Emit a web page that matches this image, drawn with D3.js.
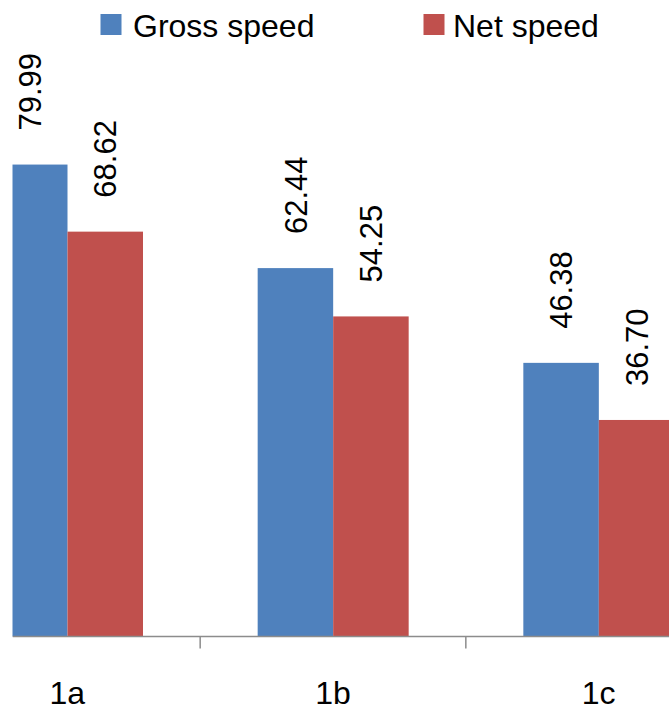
<!DOCTYPE html>
<html>
<head>
<meta charset="utf-8">
<script src="https://cdn.jsdelivr.net/npm/d3@7"></script>
<style>
  html, body { margin: 0; padding: 0; background: #fff; }
  svg { display: block; }
  text { font-family: "Liberation Sans", Arial, sans-serif; fill: #000; }
</style>
</head>
<body>
<svg id="chart" width="669" height="712"></svg>
<script>
const categories = ["1a", "1b", "1c"];
const seriesNames = ["Gross speed", "Net speed"];
const grossSpeed = [79.99, 62.44, 46.38];
const netSpeed = [68.62, 54.25, 36.70];
const valueLabels = [["79.99", "62.44", "46.38"], ["68.62", "54.25", "36.70"]];
const colors = ["#4F81BD", "#C0504D"];

const seriesValues = [grossSpeed, netSpeed];
const svg = d3.select("#chart");
const W = 669, H = 712;
const plotLeft = 12.5, plotRight = 669;
const baseY = 636.5;

const x0 = d3.scaleBand().domain(categories).range([-65.5, 731.5]).paddingInner(0).paddingOuter(0);
const x1 = d3.scaleBand().domain(seriesNames).range([57.5, 208.5]).padding(0);
const y = d3.scaleLinear().domain([0, 100]).range([baseY, 46.5]);

svg.append("defs").append("clipPath").attr("id", "plotclip")
  .append("rect").attr("x", plotLeft).attr("y", 0).attr("width", plotRight - plotLeft).attr("height", H);

const plot = svg.append("g").attr("clip-path", "url(#plotclip)");

const rows = [];
categories.forEach((c, i) => {
  seriesNames.forEach((s, j) => {
    rows.push({cat: c, series: s, si: j, value: seriesValues[j][i], label: valueLabels[j][i]});
  });
});

plot.selectAll("rect.bar").data(rows).join("rect")
  .attr("class", "bar")
  .attr("x", d => x0(d.cat) + x1(d.series))
  .attr("width", x1.bandwidth())
  .attr("y", d => y(d.value))
  .attr("height", d => baseY - y(d.value))
  .attr("fill", d => colors[d.si]);

// value labels (rotated)
svg.selectAll("text.val").data(rows).join("text")
  .attr("class", "val")
  .attr("font-size", 31)
  .attr("text-anchor", "start")
  .attr("dy", "0.36em")
  .attr("transform", d => {
    const cx = x0(d.cat) + x1(d.series) + x1.bandwidth() / 2;
    const cy = y(d.value) - 34;
    return `translate(${cx},${cy}) rotate(-90)`;
  })
  .text(d => d.label);

// category axis
const axisG = plot.append("g").attr("transform", `translate(0,${baseY})`);
axisG.append("line")
  .attr("x1", plotLeft).attr("x2", plotRight)
  .attr("y1", 0).attr("y2", 0)
  .attr("stroke", "#8c8c8c").attr("stroke-width", 1.5);
const boundaries = categories.map(c => x0(c)).concat([x0(categories[categories.length - 1]) + x0.step()]);
axisG.selectAll("line.tick").data(boundaries).join("line")
  .attr("class", "tick")
  .attr("x1", d => d).attr("x2", d => d)
  .attr("y1", 0).attr("y2", 12)
  .attr("stroke", "#8c8c8c").attr("stroke-width", 1.5);

svg.selectAll("text.cat").data(categories).join("text")
  .attr("class", "cat")
  .attr("font-size", 32)
  .attr("text-anchor", "middle")
  .attr("x", c => x0(c) + x0.bandwidth() / 2)
  .attr("y", 704)
  .text(c => c);

// legend
const legendX = [100.5, 423.5];
const legend = svg.selectAll("g.leg").data(seriesNames).join("g")
  .attr("class", "leg")
  .attr("transform", (d, i) => `translate(${legendX[i]},0)`);
legend.append("rect")
  .attr("x", 0).attr("y", 14).attr("width", 21).attr("height", 21)
  .attr("fill", (d, i) => colors[i]);
legend.append("text")
  .attr("x", (d, i) => i === 0 ? 32.5 : 29.5)
  .attr("y", 36.5)
  .attr("font-size", 32)
  .text(d => d);
</script>
</body>
</html>
